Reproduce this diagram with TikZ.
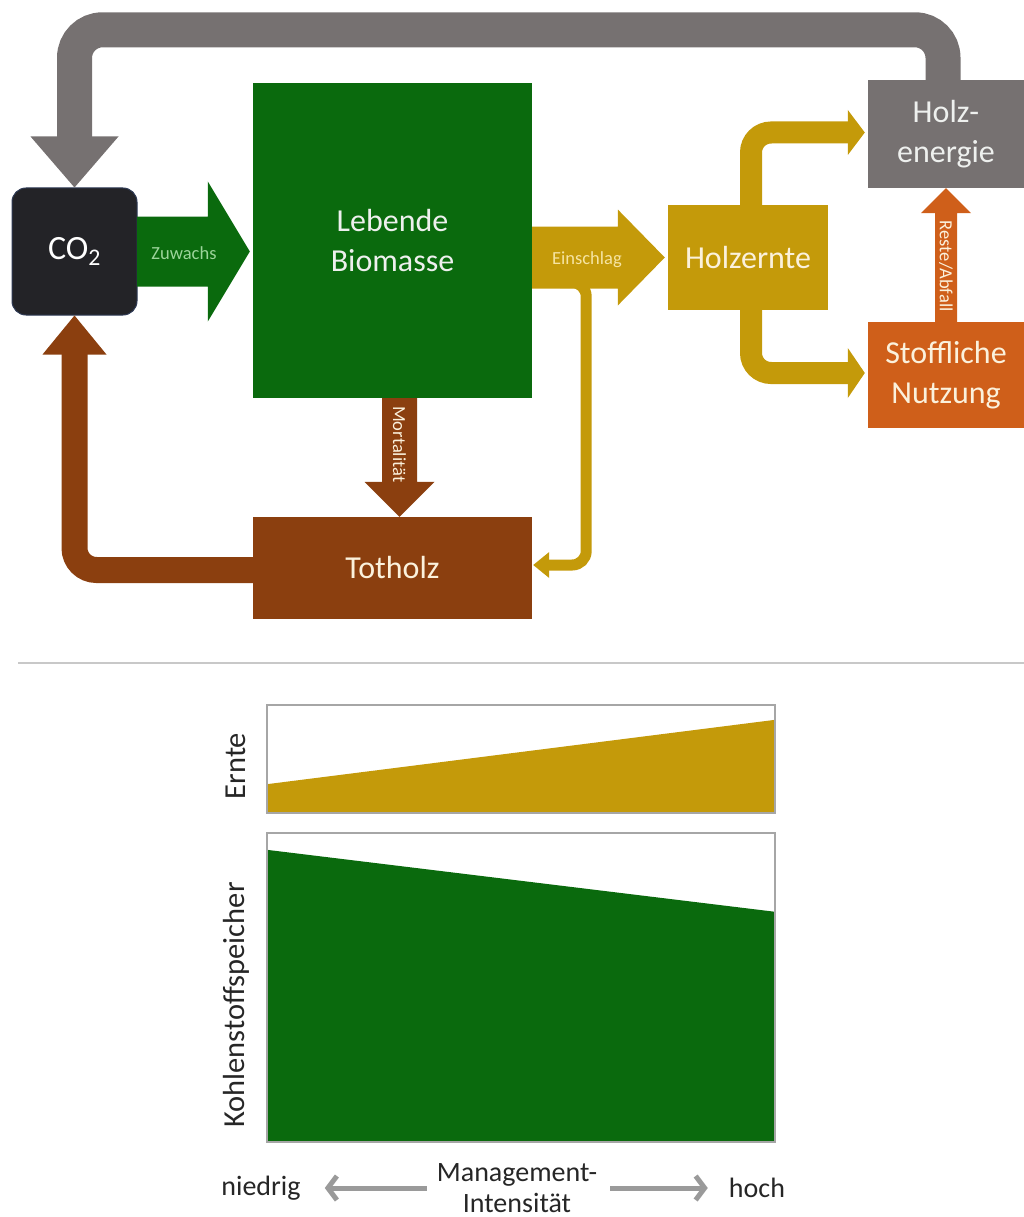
\documentclass[tikz,border=0pt]{standalone}
\usepackage{fontspec}
\setmainfont{Carlito}
\usetikzlibrary{calc,arrows.meta}
\definecolor{cgreen}{HTML}{0A6A0D}
\definecolor{cgold}{HTML}{C49A0A}
\definecolor{cbrown}{HTML}{8B3F0F}
\definecolor{corange}{HTML}{CF5F1A}
\definecolor{cgray}{HTML}{767171}
\definecolor{cdark}{HTML}{232327}
\definecolor{cborder}{HTML}{2E3A55}
\definecolor{cframe}{HTML}{A6A6A6}
\definecolor{csep}{HTML}{C8C8C8}
\definecolor{caxis}{HTML}{9A9A9A}
\definecolor{ccream}{HTML}{FBF1DC}
\definecolor{clgreen}{HTML}{9CD49A}
\definecolor{clgold}{HTML}{F6E4A2}
\definecolor{cwhite}{HTML}{EEF0EE}
\begin{document}
\begin{tikzpicture}[x=1pt,y=-1pt,
 flowbox/.style={inner sep=0pt, align=center, font=\fontsize{32}{40}\selectfont},
 smalllbl/.style={font=\fontsize{18.5}{20}\selectfont, inner sep=0pt},
 axislbl/.style={font=\fontsize{28}{31}\selectfont, text=black!85, inner sep=0pt, align=center},
 chartlbl/.style={font=\fontsize{30.5}{32}\selectfont, text=black!85, inner sep=0pt},
 chartframe/.style={draw=cframe, line width=2pt},
 axisarrow/.style={draw=caxis, line width=5pt, -{Straight Barb[length=9pt,width=24pt]}},
]
\useasboundingbox (0,0) rectangle (1024,1217);

% --- boxes
\node[flowbox, fill=cdark, draw=cborder, line width=1pt, rounded corners=14pt,
      minimum width=125pt, minimum height=127pt, text=white, font=\fontsize{34}{40}\selectfont] (co2) at (74.5,251.5) {CO\textsubscript{2}};
\node[flowbox, fill=cgreen, minimum width=279pt, minimum height=315pt, text=cwhite] (bio) at (392.5,240.5) {Lebende\\Biomasse};
\node[flowbox, fill=cbrown, minimum width=279pt, minimum height=102pt, text=ccream] (tot) at (392.5,568) {Totholz};
\node[flowbox, fill=cgold, minimum width=160pt, minimum height=105pt, text=ccream] (ernte) at (748,257.5) {Holzernte};
\node[flowbox, fill=cgray, minimum width=156pt, minimum height=108pt, text=cwhite] (energie) at (946,134) {Holz-\\energie};
\node[flowbox, fill=corange, minimum width=156pt, minimum height=106pt, text=ccream] (stoff) at (946,375) {Stoffliche\\Nutzung};

% --- gray return arrow
\draw[cgray, line width=35pt, rounded corners=28pt]
  ($(energie.north)+(-3,0)$) -- ($(energie.north)+(-3,-50)$) -| ($(co2.north)+(0,-50)$);
\fill[cgray] ($(co2.north)+(-44,-51)$) -- ($(co2.north)+(44,-51)$) -- (co2.north) -- cycle;

% --- Zuwachs
\coordinate (zt) at ($(bio.west |- co2.east)+(-3,0)$);
\fill[cgreen] ($(co2.east)+(-0.5,-35)$) -- ($(zt)+(-42,-35)$) -- ($(zt)+(-42,-70)$) -- (zt)
  -- ($(zt)+(-42,70)$) -- ($(zt)+(-42,35)$) -- ($(co2.east)+(-0.5,35)$) -- cycle;
\node[smalllbl, text=clgreen] (lzu) at (184,253) {Zuwachs};

% --- brown return arrow
\draw[cbrown, line width=26pt, rounded corners=22pt]
  ($(tot.west)+(0,2)$) -| ($(co2.south)+(0,38)$);
\fill[cbrown] ($(co2.south)+(-32,39)$) -- ($(co2.south)+(32,39)$) -- (co2.south) -- cycle;

% --- Mortalitaet
\coordinate (ms) at ($(bio.south)+(7,0)$);
\coordinate (mt) at ($(tot.north)+(7,0)$);
\fill[cbrown] ($(ms)+(-17.5,0)$) -- ($(ms)+(17.5,0)$) -- ($(mt)+(17.5,-35)$) -- ($(mt)+(35,-35)$)
  -- (mt) -- ($(mt)+(-35,-35)$) -- ($(mt)+(-17.5,-35)$) -- cycle;
\node[smalllbl, rotate=-90, text=ccream] (lmo) at ($(ms)+(0,46)$) {Mortalität};

% --- Einschlag
\coordinate (es) at (bio.east |- ernte.west);
\coordinate (et) at ($(ernte.west)+(-3,0)$);
\fill[cgold] ($(es)+(0,-31)$) -- ($(et)+(-47,-31)$) -- ($(et)+(-47,-48)$) -- (et)
  -- ($(et)+(-47,48)$) -- ($(et)+(-47,31)$) -- ($(es)+(0,31)$) -- cycle;
\node[smalllbl, text=clgold] (lein) at (587,260) {Einschlag};

% --- thin gold return to Totholz
\draw[cgold, line width=11pt, rounded corners=14pt]
  ($(es)+(28,25)$) -- ($(es)+(54,25)$) |- ($(tot.east)+(17,-3)$);
\fill[cgold] ($(tot.east)+(17,-16)$) -- ($(tot.east)+(17,10)$) -- ($(tot.east)+(1,-3)$) -- cycle;

% --- Holzernte branches
\draw[cgold, line width=22pt, rounded corners=20pt]
  ($(ernte.north)+(3,0)$) |- ($(energie.west)+(-20,-1.5)$);
\fill[cgold] ($(energie.west)+(-20,-24)$) -- ($(energie.west)+(-20,21)$) -- ($(energie.west)+(-3,-1.5)$) -- cycle;
\draw[cgold, line width=22pt, rounded corners=20pt]
  ($(ernte.south)+(3,0)$) |- ($(stoff.west)+(-20,-2)$);
\fill[cgold] ($(stoff.west)+(-20,-27)$) -- ($(stoff.west)+(-20,23)$) -- ($(stoff.west)+(-3,-2)$) -- cycle;

% --- Reste/Abfall
\coordinate (rs) at (stoff.north);
\coordinate (rt) at (energie.south);
\fill[corange] ($(rs)+(-11,0)$) -- ($(rt)+(-11,25)$) -- ($(rt)+(-25,25)$) -- (rt)
  -- ($(rt)+(25,25)$) -- ($(rt)+(11,25)$) -- ($(rs)+(11,0)$) -- cycle;
\node[smalllbl, rotate=-90, text=ccream] (lre) at ($(rt)+(0,78)$) {Reste/Abfall};

% --- separator
\draw[csep, line width=2.5pt] (18,663) -- (1024,663);

% --- charts
\node[inner sep=0pt, minimum width=508pt, minimum height=108pt] (ch1) at (521,759) {};
\fill[cgold] (ch1.south west) -- ($(ch1.south west)+(0,-29)$) -- ($(ch1.north east)+(0,15)$) -- (ch1.south east) -- cycle;
\draw[chartframe] (ch1.north west) rectangle (ch1.south east);

\node[inner sep=0pt, minimum width=508pt, minimum height=309pt] (ch2) at (521,987.5) {};
\fill[cgreen] (ch2.south west) -- ($(ch2.north west)+(0,17)$) -- ($(ch2.north east)+(0,79)$) -- (ch2.south east) -- cycle;
\draw[chartframe] (ch2.north west) rectangle (ch2.south east);

\node[chartlbl, rotate=90] (lern) at (236,766) {Ernte};
\node[chartlbl, rotate=90] (lkoh) at (236,1005) {Kohlenstoffspeicher};

% --- axis
\node[axislbl] (nied) at (261,1188) {niedrig};
\node[axislbl] (hoch) at (757,1188) {hoch};
\node[axislbl] (mi) at (517,1188) {Management-\\Intensität};
\draw[axisarrow] ($(mi.west)+(-10,0)$) -- ($(nied.east)+(24,0)$);
\draw[axisarrow] ($(mi.east)+(13,0)$) -- ($(hoch.west)+(-21,0)$);
\end{tikzpicture}
\end{document}
